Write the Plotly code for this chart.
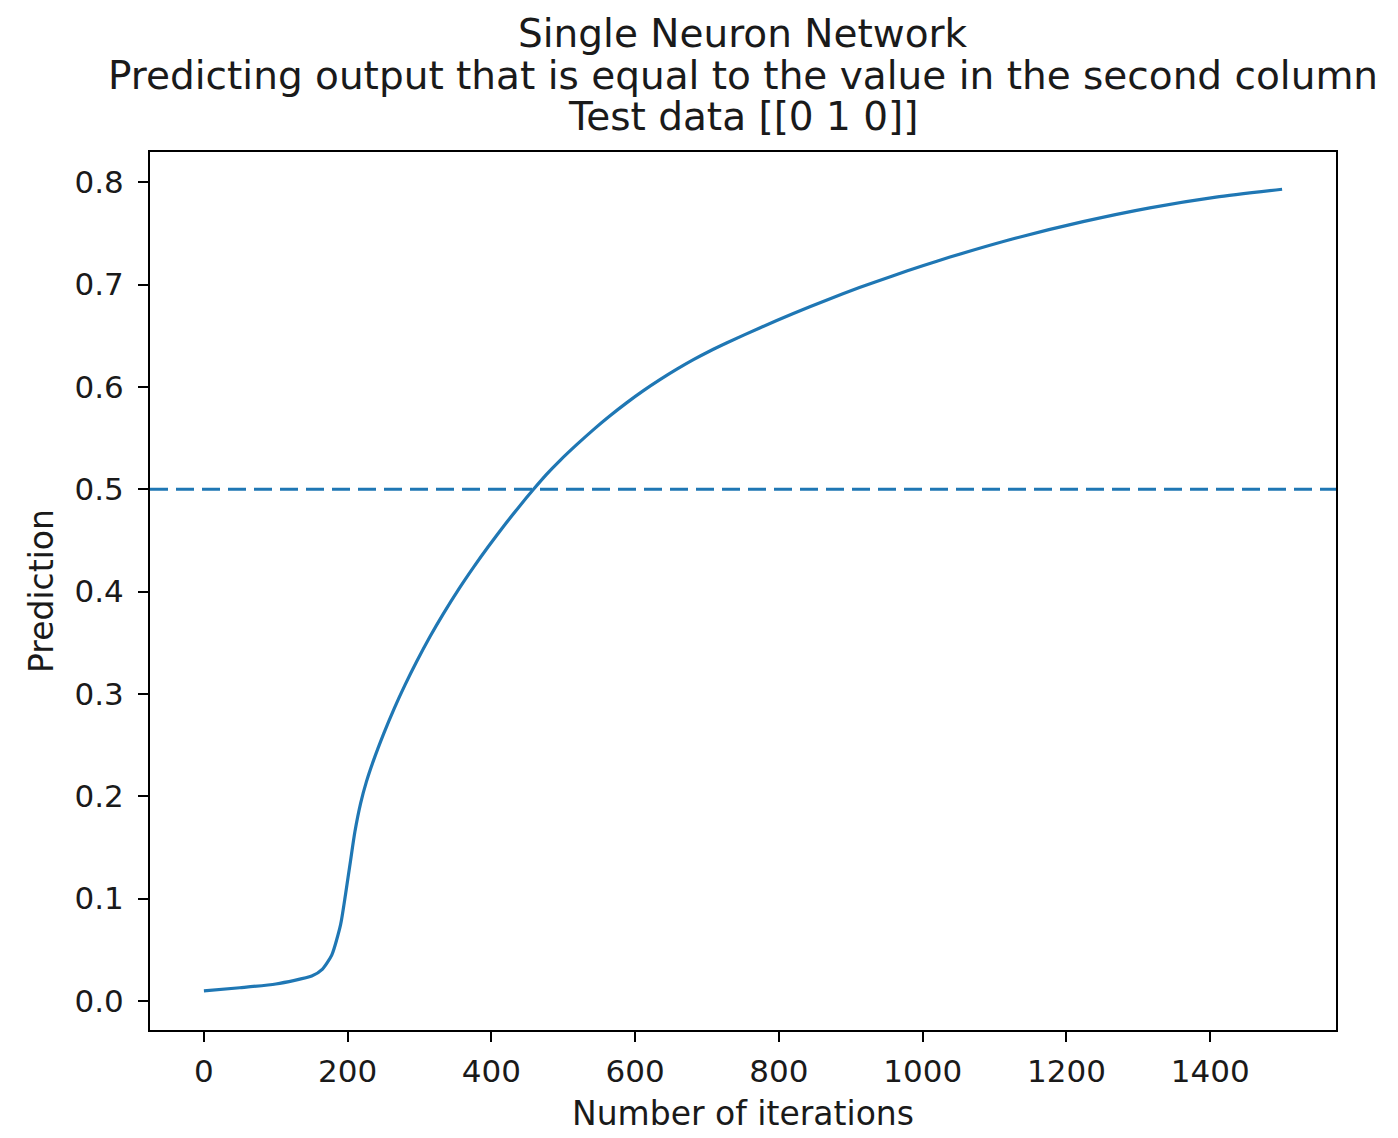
import plotly.graph_objects as go

# Values
iterations = [0, 50, 100, 150, 165, 178, 190, 197, 204, 210, 218, 226, 236, 250, 265,
              280, 296, 315, 333, 355, 375, 396, 417, 438, 458, 477, 496, 519, 542,
              565, 588, 611, 635, 658, 681, 704, 727, 774, 820, 866, 912, 958, 1000,
              1038, 1130, 1223, 1316, 1408, 1500]
prediction = [0.0098, 0.0128, 0.0165, 0.0242, 0.031, 0.045, 0.074, 0.104, 0.137, 0.165,
              0.193, 0.214, 0.235, 0.2609, 0.2861, 0.3090, 0.3316, 0.3565, 0.3782,
              0.4029, 0.4237, 0.4443, 0.4639, 0.4825, 0.4995, 0.5148, 0.5285, 0.5438,
              0.5583, 0.5718, 0.5844, 0.5961, 0.6073, 0.6173, 0.6266, 0.6351, 0.6429,
              0.6579, 0.6717, 0.6848, 0.6971, 0.7085, 0.7185, 0.7269, 0.7455, 0.7615,
              0.7750, 0.7855, 0.7932]
threshold = 0.5
x_ticks = [0, 200, 400, 600, 800, 1000, 1200, 1400]
y_ticks = [0.0, 0.1, 0.2, 0.3, 0.4, 0.5, 0.6, 0.7, 0.8]

title_lines = ["Single Neuron Network",
               "Predicting output that is equal to the value in the second column",
               "Test data [[0 1 0]]"]
x_label = "Number of iterations"
y_label = "Prediction"

blue = "#1f77b4"
text_color = "#1a1a1a"
font_family = "DejaVu Sans"

W, H = 1398, 1138
L, R, T, B = 150, 62, 152, 106
plot_h = H - T - B

fig = go.Figure()
fig.add_trace(go.Scatter(x=iterations, y=prediction, mode="lines",
                         line=dict(color=blue, width=3.2, shape="spline", smoothing=0.6),
                         showlegend=False, hoverinfo="skip"))
fig.add_hline(y=threshold, line=dict(color=blue, width=3.2, dash="18px,8px"))

axis_common = dict(showline=True, linecolor="black", linewidth=2, mirror=True,
                   ticks="outside", ticklen=10, tickwidth=2, tickcolor="black",
                   showgrid=False, zeroline=False,
                   tickfont=dict(family=font_family, size=31, color=text_color))

fig.update_xaxes(range=[-75, 1575], tickvals=x_ticks, ticklabelstandoff=3,
                 title=dict(text=x_label, standoff=14,
                            font=dict(family=font_family, size=33, color=text_color)),
                 **axis_common)
fig.update_yaxes(range=[-0.0285, 0.8296], tickvals=y_ticks, tickformat=".1f",
                 ticklabelstandoff=8,
                 title=dict(text=y_label, standoff=11,
                            font=dict(family=font_family, size=33, color=text_color)),
                 **axis_common)

# Title: three centred lines (pixel centres 33, 75, 116 from the top)
title_centres_px = [33, 75, 116]
for line, cy in zip(title_lines, title_centres_px):
    fig.add_annotation(text=line, xref="paper", yref="paper", x=0.5,
                       y=(H - B - cy) / plot_h, xanchor="center", yanchor="middle",
                       showarrow=False,
                       font=dict(family=font_family, size=39, color=text_color))

fig.update_layout(
    width=W, height=H,
    margin=dict(l=L, r=R, t=T, b=B),
    paper_bgcolor="white", plot_bgcolor="white",
)

fig.write_html("out.html")
